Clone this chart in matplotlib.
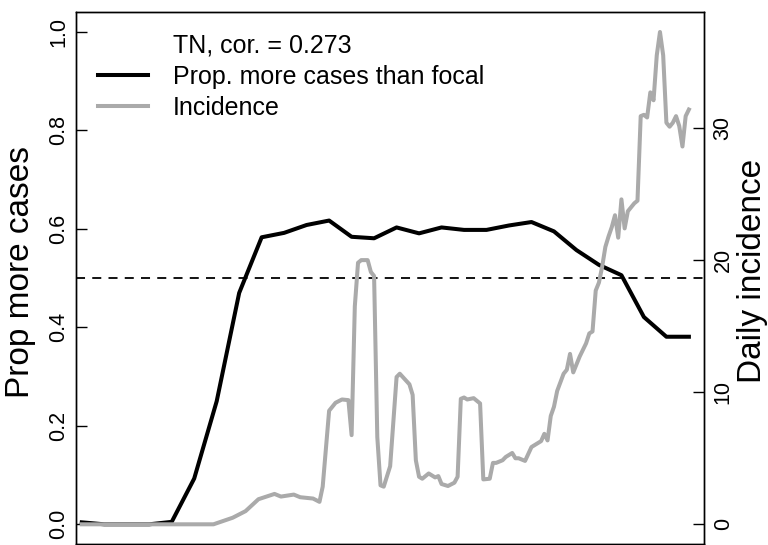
import matplotlib
matplotlib.use("Agg")
import matplotlib.pyplot as plt
from matplotlib.lines import Line2D

plt.rcParams['font.family'] = ['Liberation Sans', 'DejaVu Sans']

# Weekly proportion of locations with more cases than focal
prop_days = [7 * i for i in range(28)]
prop_more = [0.004, 0.0, 0.0, 0.0, 0.005, 0.093, 0.25, 0.47, 0.583, 0.592,
             0.608, 0.617, 0.584, 0.581, 0.603, 0.591, 0.603, 0.598, 0.598,
             0.607, 0.614, 0.595, 0.557, 0.527, 0.506, 0.421, 0.381, 0.381]

# Daily incidence (vertices)
inc_days = [0, 41, 47, 51, 55, 60, 62, 66, 68, 72, 74, 75, 77, 79, 81, 83, 84, 85,
            86, 87, 89, 90, 91, 92, 93, 94, 96, 98, 99, 102, 103, 104, 105, 106,
            108, 110, 111, 112, 114, 116, 117, 118, 119, 120, 122, 124, 125, 127,
            128, 129, 131, 132, 134, 135, 136, 138, 140, 143, 144, 145, 146, 147,
            148, 150, 151, 152, 153, 155, 156, 157, 158, 159, 160, 161, 162, 163,
            164, 165, 166, 167, 168, 169, 170, 172, 173, 174, 175, 176, 177, 178,
            179, 180, 181, 182, 183, 184, 185, 186, 187, 188, 189]
incidence = [0.0, 0.0, 0.5, 1.0, 1.9, 2.3, 2.1, 2.25, 2.05, 1.95, 1.7, 2.85, 8.6,
             9.2, 9.45, 9.4, 6.75, 16.5, 19.8, 20.0, 20.0, 19.1, 18.8, 6.6, 2.95,
             2.85, 4.4, 11.15, 11.4, 10.6, 9.8, 4.85, 3.6, 3.45, 3.85, 3.55, 3.65,
             3.05, 2.9, 3.15, 3.6, 9.5, 9.6, 9.45, 9.55, 9.15, 3.4, 3.45, 4.65,
             4.65, 4.85, 5.1, 5.4, 5.0, 5.0, 4.8, 5.85, 6.3, 6.85, 6.35, 8.2, 8.9,
             10.1, 11.4, 11.7, 12.9, 11.5, 12.7, 13.2, 13.7, 14.45, 14.6, 17.7,
             18.3, 19.5, 21.0, 21.8, 22.5, 23.4, 21.7, 24.6, 22.4, 23.7, 24.3,
             24.5, 30.9, 31.0, 30.8, 32.7, 32.1, 35.5, 37.27, 35.5, 30.4, 30.1,
             30.4, 30.9, 30.15, 28.6, 30.9, 31.4]

left_ticks = [0.0, 0.2, 0.4, 0.6, 0.8, 1.0]
left_labels = ["0.0", "0.2", "0.4", "0.6", "0.8", "1.0"]
right_ticks = [0, 10, 20, 30]
right_labels = ["0", "10", "20", "30"]
legend_title = "TN, cor. = 0.273"
series_names = ["Prop. more cases than focal", "Incidence"]
threshold = 0.5

W, H = 768, 545
fig = plt.figure(figsize=(W / 100, H / 100), dpi=100)
ax = fig.add_axes([76 / W, 1 / H, (704.3 - 76) / W, (544 - 12.3) / H])

ax.plot(prop_days, prop_more, color='black', lw=2.9, solid_joinstyle='round', zorder=3)
ax.axhline(threshold, color='black', lw=1.3, linestyle=(0, (5, 4)), zorder=2)
ax.set_ylim(-0.04, 1.04)
ax.set_xlim(-1.8, 193.8)
ax.set_xticks([])
ax.set_yticks(left_ticks)
ax.set_yticklabels(left_labels)
ax.tick_params(axis='y', direction='in', length=8, width=1.0, labelsize=15.5,
               pad=5, labelrotation=90)
for lab in ax.get_yticklabels():
    lab.set_va('center')

ax2 = ax.twinx()
ax2.plot(inc_days, incidence, color='#aaaaaa', lw=2.9, solid_joinstyle='round', zorder=3)
ymax = max(incidence)
ax2.set_ylim(-0.04 * ymax, 1.04 * ymax)
ax2.set_yticks(right_ticks)
ax2.set_yticklabels(right_labels)
ax2.tick_params(axis='y', direction='in', length=8, width=1.0, labelsize=15.5,
                pad=6, labelrotation=90)
for lab in ax2.get_yticklabels():
    lab.set_va('center')

for a in (ax, ax2):
    for s in a.spines.values():
        s.set_linewidth(1.0)

handles = [Line2D([], [], color='none', lw=2.9),
           Line2D([], [], color='black', lw=2.9),
           Line2D([], [], color='#aaaaaa', lw=2.9)]
labels = [legend_title] + series_names
ax2.legend(handles, labels, loc='upper left', frameon=False, fontsize=18,
           bbox_to_anchor=(98 / W, 1 - 34 / H), bbox_transform=fig.transFigure,
           borderpad=0, borderaxespad=0, handlelength=2.0, handletextpad=1.0,
           labelspacing=0.28)

fig.text(21 / W, 1 - 272 / H, "Prop more cases", rotation=90, fontsize=24,
         ha='center', va='center')
fig.text(752 / W, 1 - 271 / H, "Daily incidence", rotation=90, fontsize=24,
         ha='center', va='center')

fig.savefig("out.png", dpi=100)
